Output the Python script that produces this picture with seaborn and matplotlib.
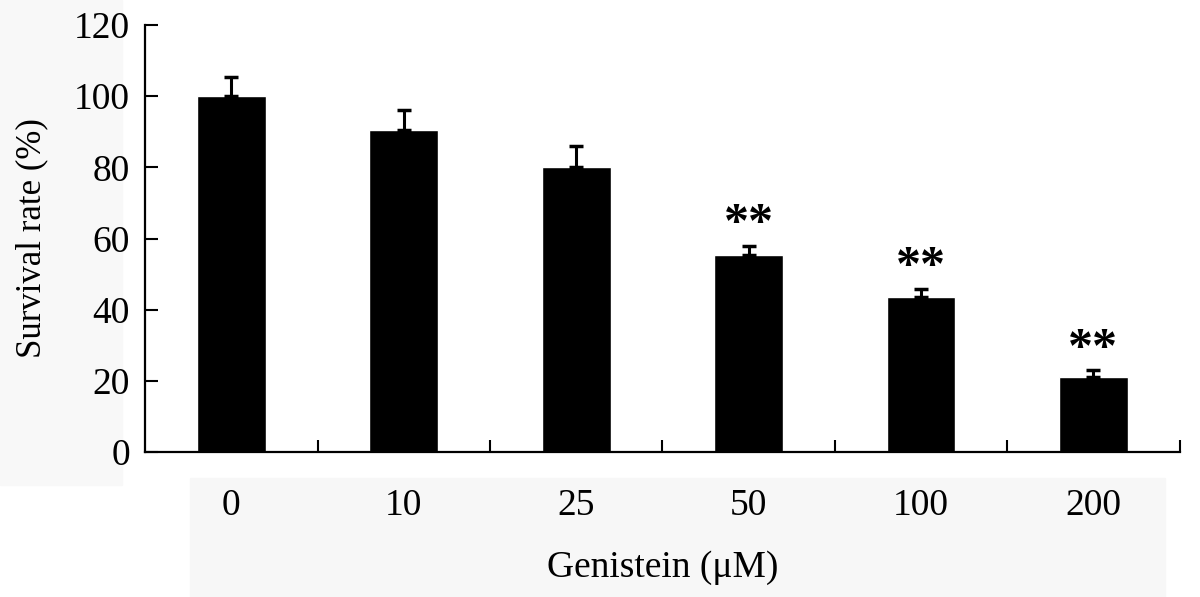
import numpy as np
import matplotlib
matplotlib.use('Agg')
import matplotlib.pyplot as plt
import seaborn as sns
from matplotlib.patches import Rectangle

# values
doses = ['0', '10', '25', '50', '100', '200']
survival = [100, 90.5, 80, 55.3, 43.6, 21]
sem = [5.5, 5.7, 6, 2.7, 2.3, 2.0]
marks = ['', '', '', '**', '**', '**']

sns.set_theme(style='ticks', rc={'text.color': 'black', 'axes.labelcolor': 'black',
                                 'xtick.color': 'black', 'ytick.color': 'black'})
plt.rcParams['font.family'] = ['Liberation Serif', 'DejaVu Serif']

fig = plt.figure(figsize=(12, 5.97), dpi=100)
fig.patches.append(Rectangle((0.158, 0), 0.8125, 0.2, transform=fig.transFigure,
                             color='#f7f7f7', zorder=-10))
fig.patches.append(Rectangle((0, 0.188), 0.102, 0.812, transform=fig.transFigure,
                             color='#f8f8f8', zorder=-10))
ax = fig.add_axes([0.121, 0.243, 0.862, 0.715])
ax.patch.set_alpha(0)

sns.barplot(x=doses, y=survival, color='black', width=0.4, saturation=1,
            errorbar=None, ax=ax)

centers = [p.get_x() + p.get_width() / 2 for p in ax.patches]
ax.errorbar(centers, survival, yerr=[np.zeros(len(sem)), sem], fmt='none',
            ecolor='black', elinewidth=2.2, capsize=4.8, capthick=2.5, zorder=1)

for x, y, e, m in zip(centers, survival, sem, marks):
    if m:
        ax.annotate(m, (x, y + e), xytext=(0, -2), textcoords='offset points',
                    ha='center', va='bottom', fontsize=36, fontweight='bold')

ax.set_ylim(0, 120)
ax.set_xlim(-0.5, 5.5)
ax.set_yticks(range(0, 121, 20))
ax.set_xticks(range(len(doses)))
ax.set_xticks(np.arange(0.5, len(doses), 1), minor=True)
ax.tick_params(axis='x', which='major', length=0, pad=26, labelsize=27)
ax.tick_params(axis='x', which='minor', direction='in', length=9, width=1.5)
ax.tick_params(axis='y', direction='in', length=9, width=1.5, pad=11, labelsize=27)

for side in ['top', 'right']:
    ax.spines[side].set_visible(False)
for side in ['left', 'bottom']:
    ax.spines[side].set_linewidth(1.6)
    ax.spines[side].set_color('black')

ax.set_ylabel('Survival rate (%)', fontsize=25, labelpad=18)
ax.set_xlabel('Genistein (\u03bcM)', fontsize=27, labelpad=20)

fig.savefig('out.png', dpi=100)
